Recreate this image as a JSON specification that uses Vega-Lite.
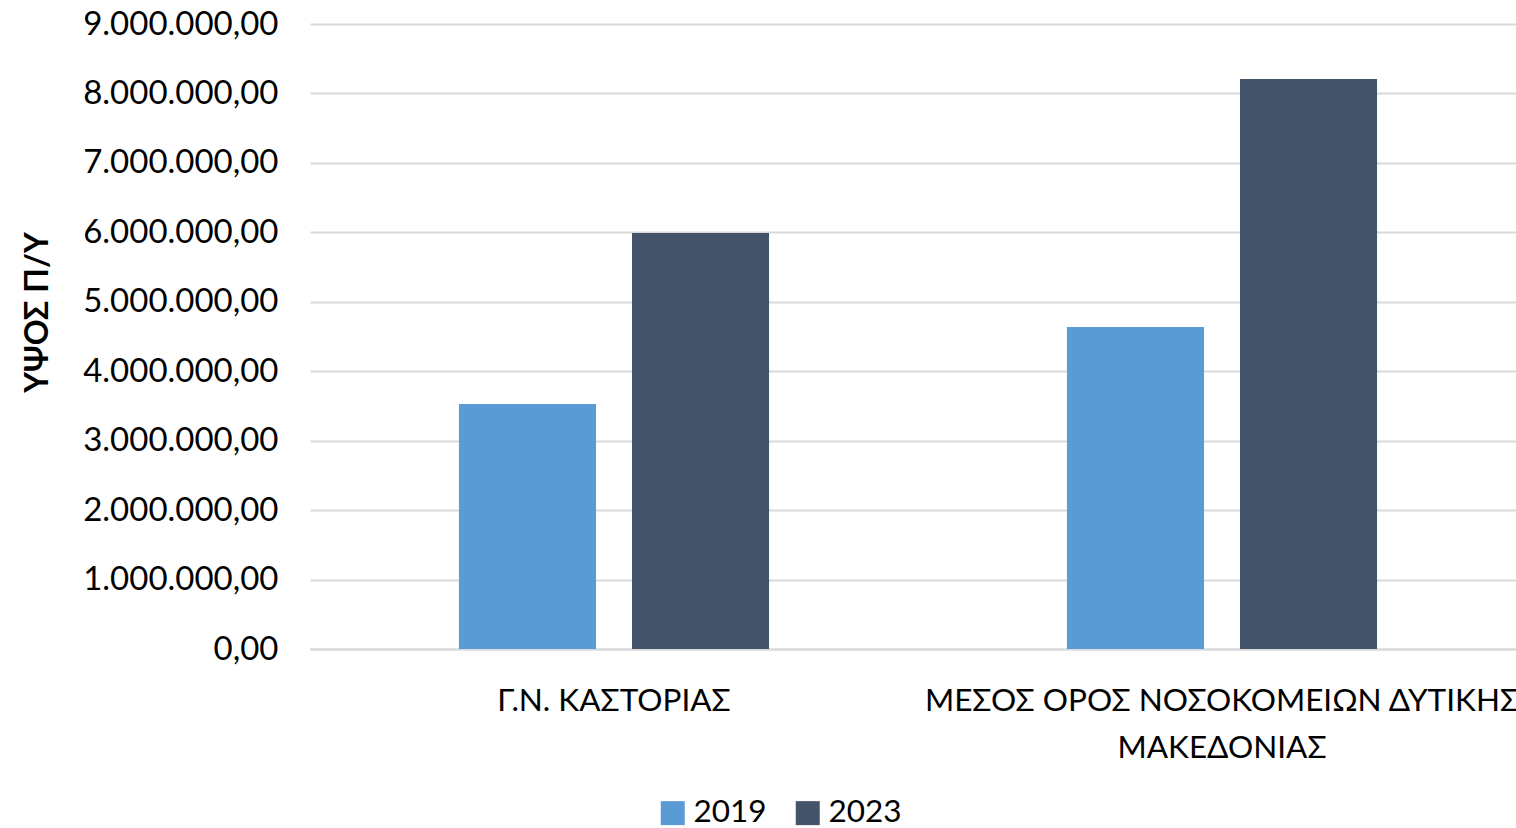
{
  "$schema": "https://vega.github.io/schema/vega-lite/v6.json",
  "width": 1206,
  "height": 625,
  "autosize": {"type": "none"},
  "padding": {"left": 310, "top": 24, "right": 0, "bottom": 179},
  "background": "white",
  "config": {
    "view": {"stroke": null},
    "font": "Lato",
    "locale": {"number": {"decimal": ",", "thousands": ".", "grouping": [3], "currency": ["", " €"]}}
  },
  "data": {
    "values": [
      {"category": "Γ.Ν. ΚΑΣΤΟΡΙΑΣ", "year": "2019", "value": 3528000},
      {"category": "Γ.Ν. ΚΑΣΤΟΡΙΑΣ", "year": "2023", "value": 5990000},
      {"category": "ΜΕΣΟΣ ΟΡΟΣ ΝΟΣΟΚΟΜΕΙΩΝ ΔΥΤΙΚΗΣ ΜΑΚΕΔΟΝΙΑΣ", "year": "2019", "value": 4637000},
      {"category": "ΜΕΣΟΣ ΟΡΟΣ ΝΟΣΟΚΟΜΕΙΩΝ ΔΥΤΙΚΗΣ ΜΑΚΕΔΟΝΙΑΣ", "year": "2023", "value": 8208000}
    ]
  },
  "mark": {"type": "bar"},
  "encoding": {
    "x": {
      "field": "category",
      "type": "nominal",
      "sort": null,
      "scale": {"range": [0, 1216], "paddingInner": 0.49, "paddingOuter": 0.245},
      "axis": {
        "title": null,
        "grid": false,
        "ticks": false,
        "domainColor": "#D9D9D9",
        "domainWidth": 2,
        "labelAngle": 0,
        "labelFontSize": 31.5,
        "labelColor": "#000000",
        "labelPadding": 36,
        "labelBaseline": "top",
        "labelLineHeight": 47,
        "labelLimit": 0,
        "labelOverlap": false,
        "labelBound": false,
        "labelExpr": "datum.label == 'ΜΕΣΟΣ ΟΡΟΣ ΝΟΣΟΚΟΜΕΙΩΝ ΔΥΤΙΚΗΣ ΜΑΚΕΔΟΝΙΑΣ' ? ['ΜΕΣΟΣ ΟΡΟΣ ΝΟΣΟΚΟΜΕΙΩΝ ΔΥΤΙΚΗΣ', 'ΜΑΚΕΔΟΝΙΑΣ'] : datum.label"
      }
    },
    "xOffset": {
      "field": "year",
      "type": "nominal",
      "scale": {"paddingInner": 0.208, "paddingOuter": 0}
    },
    "y": {
      "field": "value",
      "type": "quantitative",
      "scale": {"domain": [0, 9000000], "nice": false},
      "axis": {
        "title": "ΥΨΟΣ Π/Υ",
        "titleFontSize": 32,
        "titleFontWeight": "bold",
        "titleColor": "#000000",
        "titleX": -263,
        "titleY": 288,
        "titleAngle": -90,
        "titleBaseline": "alphabetic",
        "titleAlign": "center",
        "values": [0, 1000000, 2000000, 3000000, 4000000, 5000000, 6000000, 7000000, 8000000, 9000000],
        "format": ",.2f",
        "labelFontSize": 33,
        "labelColor": "#000000",
        "labelPadding": 32,
        "labelLimit": 0,
        "ticks": false,
        "domain": false,
        "gridColor": "#D9D9D9",
        "gridWidth": 2
      }
    },
    "color": {
      "field": "year",
      "type": "nominal",
      "scale": {"domain": ["2019", "2023"], "range": ["#5B9BD5", "#44546A"]},
      "legend": {
        "title": null,
        "orient": "none",
        "legendX": 347,
        "legendY": 773,
        "direction": "horizontal",
        "symbolType": "square",
        "symbolSize": 576,
        "symbolStrokeWidth": 0,
        "labelFontSize": 31.5,
        "labelColor": "#000000",
        "labelOffset": 5,
        "columnPadding": 25,
        "padding": 0
      }
    }
  }
}
